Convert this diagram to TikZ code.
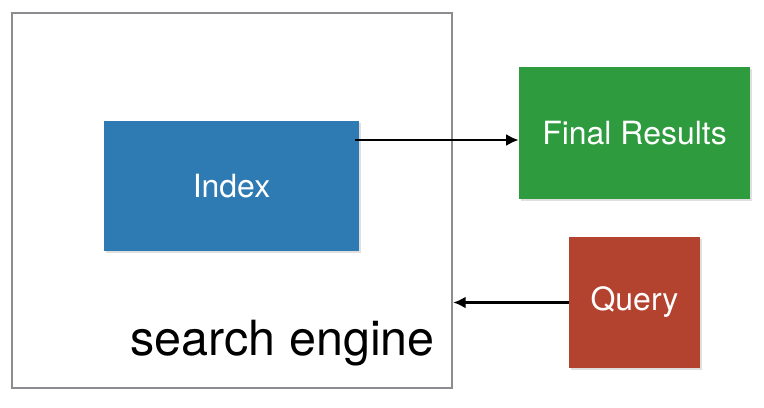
\documentclass[tikz,border=0pt]{standalone}
\usepackage{fontspec}
\setmainfont{TeX Gyre Heros}
\usepackage{tikz}
\usetikzlibrary{shadows,arrows.meta}
\usepackage{xcolor}
\definecolor{idxblue}{RGB}{46,122,178}
\definecolor{resgreen}{RGB}{46,155,62}
\definecolor{qryred}{RGB}{179,66,46}
\definecolor{enggray}{RGB}{140,140,145}

\begin{document}
\begin{tikzpicture}[x=0.02cm, y=-0.02cm,
    block/.style={rectangle, inner sep=0, text=white, font=\fontsize{18.2}{22}\selectfont,
                  drop shadow={opacity=0.25, shadow xshift=1pt, shadow yshift=-1pt}},
    link/.style={-{Latex[length=2.5mm, width=2.4mm]}, line width=1.4pt}]
    \useasboundingbox (0, 0) rectangle (764, 407);

    \node[draw=enggray, line width=1.4pt, minimum width=8.8cm, minimum height=7.5cm] (eng) at (232, 200.5) {};
    \node[anchor=base west, inner sep=0, font=\fontsize{27.6}{32}\selectfont] (englabel) at (130, 355) {search engine};

    \node[block, fill=idxblue, minimum width=5.1cm, minimum height=2.6cm] (idx) at (231.5, 186) {Index};
    \node[block, fill=resgreen, minimum width=4.62cm, minimum height=2.64cm] (res) at (634.5, 133) {Final Results};
    \node[block, fill=qryred, minimum width=2.62cm, minimum height=2.62cm] (qry) at (634.5, 302.5) {Query};

    \coordinate (out) at (355, 140);
    \draw[link] (out) -- (res.west |- out);
    \draw[link] (qry.west) -- (eng.east |- qry.west);
\end{tikzpicture}
\end{document}
